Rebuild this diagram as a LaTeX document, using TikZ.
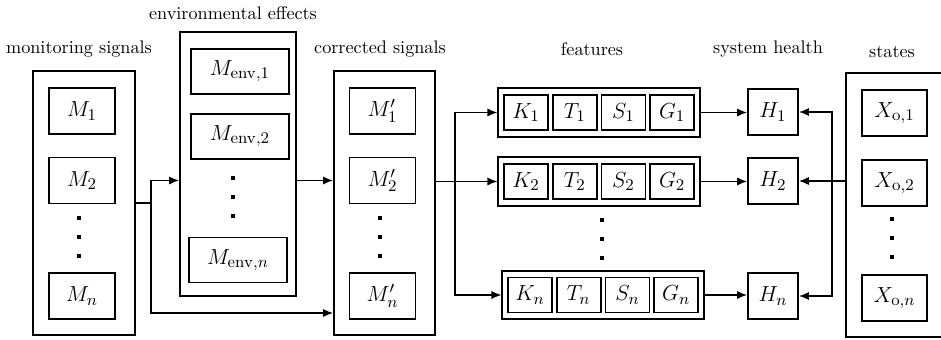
\documentclass[tikz,border=0pt]{standalone}
\usetikzlibrary{positioning,fit,arrows.meta}

\begin{document}
\begin{tikzpicture}[
        x=0.55pt, y=-0.55pt,
        frame/.style={draw, line width=1pt, inner sep=0pt},
        sig/.style={draw, line width=1pt, font=\fontsize{13}{15}\selectfont, inner sep=0pt,
            minimum width=36.3pt, minimum height=25.3pt},
        envsig/.style={sig, minimum width=53.9pt, minimum height=24.8pt},
        feat/.style={draw, line width=1pt, font=\fontsize{13}{15}\selectfont, inner sep=0pt,
            minimum width=24.2pt, minimum height=19.25pt},
        hlth/.style={sig, minimum width=27.5pt},
        arr/.style={draw, line width=0.8pt, -{Latex[length=5.5pt,width=4.5pt]}}
    ]
    \useasboundingbox (0,0) rectangle (941,340);
    \clip (0,0) rectangle (941,340);

    % column labels
    \node (monlbl)  at (79,49)  {monitoring signals};
    \node (envlbl)  at (233,13) {environmental effects};
    \node (corlbl)  at (380,49) {corrected signals};
    \node (featlbl) at (592,49) {features};
    \node (hlthlbl) at (768,49) {system health};
    \node (statlbl) at (892,52) {states};

    % monitoring signals
    \node[frame, minimum width=56.1pt, minimum height=145.2pt] (mon) at (84,203) {};
    \node[sig] (m1) at (82,111)   {$M_1$};
    \node[sig] (m2) at (82,180.5) {$M_2$};
    \node[sig] (mn) at (82,296)   {$M_n$};

    % environmental effects
    \node[frame, minimum width=63.8pt, minimum height=145.2pt] (env) at (238,164) {};
    \node[envsig] (e1) at (240,71.5)  {$M_{\mathrm{env},1}$};
    \node[envsig] (e2) at (240,136.5) {$M_{\mathrm{env},2}$};
    \node[envsig] (en) at (238,260)   {$M_{\mathrm{env},n}$};

    % corrected signals
    \node[frame, minimum width=55.55pt, minimum height=145.2pt] (cor) at (384.5,203) {};
    \node[sig] (c1) at (382.5,111)   {$M'_1$};
    \node[sig] (c2) at (382.5,180.5) {$M'_2$};
    \node[sig] (cn) at (382.5,296)   {$M'_n$};

    % features
    \foreach \r/\y/\dx in {1/112.5/0, 2/181.5/0, n/295/4} {
        \node[feat] (k\r) at (526+\dx,\y) {$K_\r$};
        \node[feat, right=1.6pt of k\r] (t\r) {$T_\r$};
        \node[feat, right=1.6pt of t\r] (s\r) {$S_\r$};
        \node[feat, right=1.6pt of s\r] (g\r) {$G_\r$};
        \node[frame, fit=(k\r)(g\r), inner xsep=2.6pt, inner ysep=3.2pt] (f\r) {};
    }

    % system health
    \node[hlth] (h1) at (773,112) {$H_1$};
    \node[hlth] (h2) at (773,181) {$H_2$};
    \node[hlth] (hn) at (773,296) {$H_n$};

    % states
    \node[frame, minimum width=53.35pt, minimum height=145.2pt] (stat) at (894.5,205) {};
    \node[sig, minimum width=35.75pt] (x1) at (894.5,113) {$X_{\mathrm{o},1}$};
    \node[sig, minimum width=35.75pt] (x2) at (894.5,183) {$X_{\mathrm{o},2}$};
    \node[sig, minimum width=35.75pt] (xn) at (894.5,298) {$X_{\mathrm{o},n}$};

    % vertical dots
    \foreach \x/\y in {79/237, 233/197.5, 380/237, 602/239.5, 892/238.5}
        \foreach \d in {-19,0,19}
            \fill (\x-2,\y+\d-2) rectangle ++(4,4);

    % connectors
    \coordinate (sp1) at (151,203);
    \coordinate (lo)  at (151,313);
    \coordinate (sp2) at (455,181.5);
    \coordinate (sp3) at (832,181);

    \draw[line width=0.8pt] (mon.east) -- (sp1);
    \draw[arr] (sp1) |- (env.west |- c2);
    \draw[arr] (sp1) -- (lo) -- (cor.west |- lo);
    \draw[arr] (env.east |- c2) -- (cor.west |- c2);

    \draw[arr] (cor.east |- f2) -- (f2.west);
    \draw[arr] (sp2) |- (f1.west);
    \draw[arr] (sp2) |- (fn.west);

    \draw[arr] (f1.east) -- (f1.east -| h1.west);
    \draw[arr] (f2.east) -- (f2.east -| h2.west);
    \draw[arr] (fn.east) -- (fn.east -| hn.west);

    \draw[arr] (stat.west |- h2) -- (h2.east);
    \draw[arr] (sp3) |- (h1.east);
    \draw[arr] (sp3) |- (hn.east);
\end{tikzpicture}
\end{document}
